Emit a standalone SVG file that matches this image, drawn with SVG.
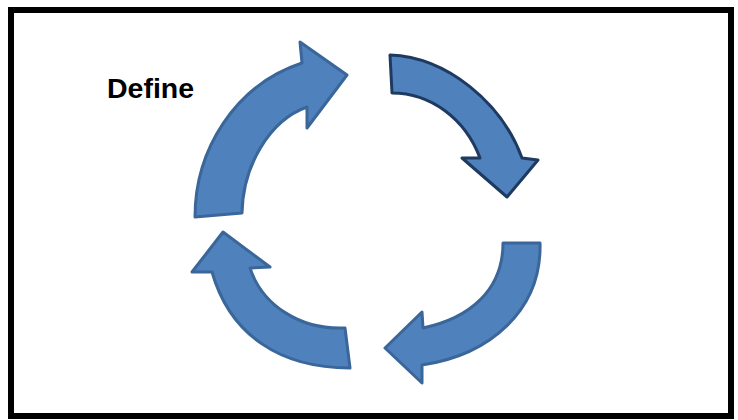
<svg xmlns="http://www.w3.org/2000/svg" width="738" height="420" viewBox="0 0 738 420">
  <style>
    .arrow { fill: #4F81BD; stroke: #3A669A; stroke-width: 3; stroke-linejoin: round; }
    .arrow.dark { stroke: #1F3A60; }
    .label { font-family: "Liberation Sans", Arial, sans-serif; font-weight: bold; font-size: 28.5px; fill: #000; }
  </style>
  <rect x="11" y="10" width="720" height="406" fill="#fff" stroke="#000" stroke-width="6"/>
  <g id="label-define">
    <text class="label" x="107" y="98">Define</text>
  </g>
  <g id="connectors">
    <g id="arrow-top-left">
      <path class="arrow" d="M195,217 C195,150 235,85 302,63 L300,42 L347,75 L307,128 L307,107 C270,120 243,165 242,213 Z"/>
    </g>
    <g id="arrow-top-right">
      <path class="arrow dark" d="M390,55 C447,57 502,103 522,158 L538,160 L507,197 L462,158 L480,158 C465,118 430,93 392,93 Z"/>
    </g>
    <g id="arrow-bottom-right">
      <path class="arrow" d="M540,243 C542,310 490,355 422,365 L422,383 L385,348 L422,312 L423,328 C470,318 503,290 503,243 Z"/>
    </g>
    <g id="arrow-bottom-left">
      <path class="arrow" d="M223,232 L270,267 L250,268 C262,305 300,330 345,328 L350,368 C280,368 230,335 212,272 L192,272 Z"/>
    </g>
  </g>
</svg>
